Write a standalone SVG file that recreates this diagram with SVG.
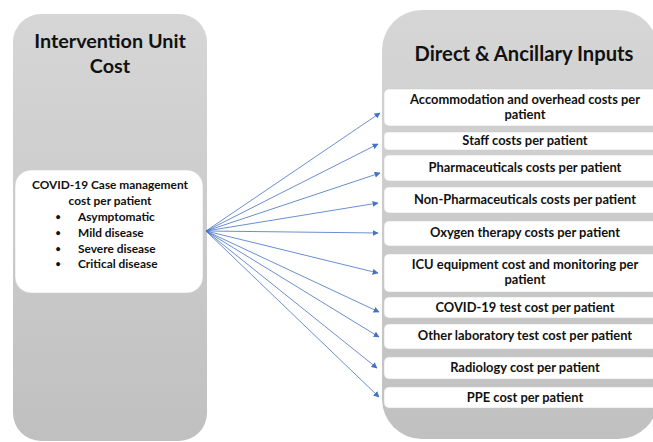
<svg xmlns="http://www.w3.org/2000/svg" width="653" height="442" viewBox="0 0 653 442">
<defs>
<linearGradient id="g" x1="0" y1="0" x2="0" y2="1">
<stop offset="0" stop-color="#d6d6d6"/>
<stop offset="1" stop-color="#c0c0c0"/>
</linearGradient>
<marker id="ah" viewBox="0 0 10 10" refX="9" refY="5" markerWidth="6" markerHeight="6" markerUnits="userSpaceOnUse" orient="auto">
<path d="M0,0 L10,5 L0,10 z" fill="#4472c4"/>
</marker>
</defs>
<style>
text{font-family:"Lato","Open Sans","Liberation Sans",sans-serif;font-weight:bold;fill:#111;}
.title{font-size:19.8px;text-anchor:middle;}
.t2{font-size:11.9px;text-anchor:middle;}
.bul{font-size:9px;text-anchor:middle;}
.lst{font-size:11.9px;text-anchor:start;}
.row{font-size:12.9px;text-anchor:middle;}
.bx{fill:#fff;stroke:#c8c8c8;stroke-width:0.5;}
.conn line{stroke:#4472c4;stroke-width:0.8;marker-end:url(#ah);}
</style>
<rect width="653" height="442" fill="#fff"/>
<g id="left-panel">
<rect x="13" y="14" width="194" height="427" rx="28" fill="url(#g)"/>
<text class="title" x="110" y="48">Intervention Unit</text>
<text class="title" x="110" y="73">Cost</text>
</g>
<g id="case-management">
<rect class="bx" x="15" y="170" width="188" height="123" rx="16"/>
<text class="t2" x="110" y="189">COVID-19 Case management</text>
<text class="t2" x="110" y="205">cost per patient</text>
<text class="bul" x="58" y="220">•</text>
<text class="lst" x="78" y="221">Asymptomatic</text>
<text class="bul" x="58" y="236">•</text>
<text class="lst" x="78" y="237">Mild disease</text>
<text class="bul" x="58" y="252">•</text>
<text class="lst" x="78" y="253">Severe disease</text>
<text class="bul" x="58" y="267">•</text>
<text class="lst" x="78" y="268">Critical disease</text>
</g>
<g id="right-panel">
<rect x="382" y="10" width="276" height="429" rx="40" fill="url(#g)"/>
<text class="title" x="524" y="61" style="font-size:20.2px">Direct &amp; Ancillary Inputs</text>
</g>
<g id="r1"><rect class="bx" x="384" y="89" width="275" height="37" rx="5"/>
<text class="row" x="525" y="104">Accommodation and overhead costs per</text>
<text class="row" x="525" y="119">patient</text></g>
<g id="r2"><rect class="bx" x="384" y="132" width="275" height="18" rx="4"/>
<text class="row" x="525" y="145">Staff costs per patient</text></g>
<g id="r3"><rect class="bx" x="384" y="155" width="275" height="26" rx="5"/>
<text class="row" x="525" y="172">Pharmaceuticals costs per patient</text></g>
<g id="r4"><rect class="bx" x="384" y="187" width="275" height="26" rx="5"/>
<text class="row" x="525" y="204">Non-Pharmaceuticals costs per patient</text></g>
<g id="r5"><rect class="bx" x="384" y="221" width="275" height="25" rx="5"/>
<text class="row" x="525" y="237">Oxygen therapy costs per patient</text></g>
<g id="r6"><rect class="bx" x="384" y="254" width="275" height="38" rx="5"/>
<text class="row" x="525" y="269">ICU equipment cost and monitoring per</text>
<text class="row" x="525" y="284">patient</text></g>
<g id="r7"><rect class="bx" x="384" y="297" width="275" height="21" rx="5"/>
<text class="row" x="525" y="312">COVID-19 test cost per patient</text></g>
<g id="r8"><rect class="bx" x="384" y="324" width="275" height="25" rx="5"/>
<text class="row" x="525" y="340">Other laboratory test cost per patient</text></g>
<g id="r9"><rect class="bx" x="384" y="357" width="275" height="22" rx="5"/>
<text class="row" x="525" y="372">Radiology cost per patient</text></g>
<g id="r10"><rect class="bx" x="384" y="387" width="275" height="21" rx="5"/>
<text class="row" x="525" y="402">PPE cost per patient</text></g>
<g class="conn" id="connectors">
<line x1="206" y1="231" x2="380" y2="113"/>
<line x1="206" y1="231" x2="378" y2="144"/>
<line x1="206" y1="231" x2="380" y2="173"/>
<line x1="206" y1="231" x2="378" y2="203"/>
<line x1="206" y1="231" x2="378" y2="233"/>
<line x1="206" y1="231" x2="378" y2="273"/>
<line x1="206" y1="231" x2="379" y2="312"/>
<line x1="206" y1="231" x2="379" y2="337"/>
<line x1="206" y1="231" x2="377" y2="368"/>
<line x1="206" y1="231" x2="379" y2="397"/>
</g>
</svg>
